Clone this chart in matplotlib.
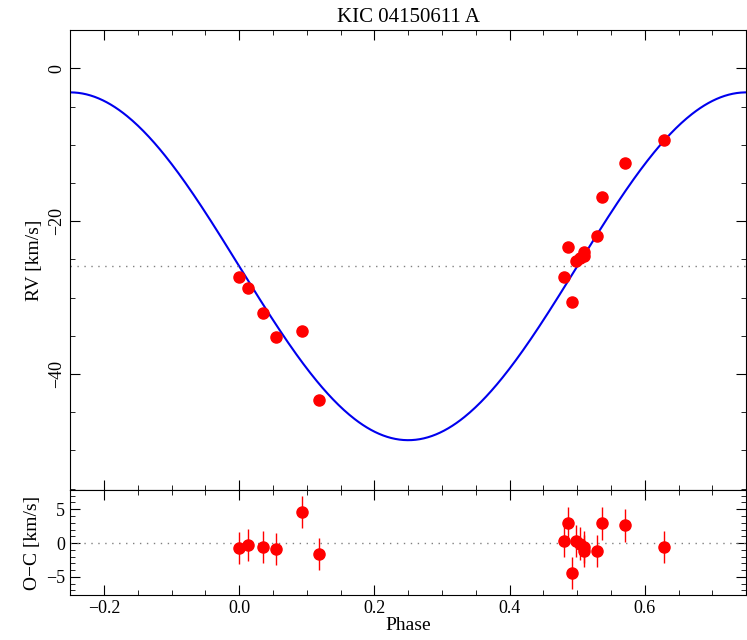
import numpy as np
import matplotlib
matplotlib.use("Agg")
import matplotlib.pyplot as plt
from matplotlib.ticker import MultipleLocator

plt.rcParams['font.family'] = ['Liberation Serif', 'DejaVu Serif']

phase = [0.0, 0.013, 0.035, 0.055, 0.093, 0.118, 0.481, 0.487, 0.492, 0.498,
         0.504, 0.510, 0.510, 0.529, 0.536, 0.570, 0.628]
rv = [-27.3, -28.8, -32.0, -35.2, -34.4, -43.4, -27.3, -23.4, -30.6, -25.2,
      -24.8, -24.6, -24.0, -22.0, -16.9, -12.4, -9.4]
resid = [-0.7, -0.3, -0.6, -0.9, 4.6, -1.6, 0.3, 2.9, -4.4, 0.3,
         -0.1, -0.6, -1.2, -1.2, 2.9, 2.6, -0.6]
err = 2.4
gamma = -25.9
K = 22.75

fig = plt.figure(figsize=(7.47, 6.4), dpi=100)
ax1 = fig.add_axes([0.094, 0.234, 0.905, 0.719])
ax2 = fig.add_axes([0.094, 0.070, 0.905, 0.164], sharex=ax1)

ph = np.linspace(-0.25, 0.75, 500)
ax1.plot(ph, gamma - K*np.sin(2*np.pi*ph), color='#0000ee', lw=1.5)
ax1.axhline(gamma, color='gray', ls=(0, (1, 4)), lw=1)
ax1.plot(phase, rv, 'o', color='red', ms=8)
ax1.set_xlim(-0.25, 0.75)
ax1.set_ylim(-55.2, 5)
ax1.set_ylabel('RV [km/s]', fontsize=14)
ax1.set_title('KIC 04150611 A', fontsize=15)
ax1.yaxis.set_major_locator(MultipleLocator(20))
ax1.yaxis.set_minor_locator(MultipleLocator(5))
plt.setp(ax1.get_xticklabels(), visible=False)
for t in ax1.get_yticklabels():
    t.set_rotation(90); t.set_va('center')

ax2.axhline(0, color='gray', ls=(0, (1, 4)), lw=1)
ax2.errorbar(phase, resid, yerr=err, fmt='o', color='red', ms=8, elinewidth=1, capsize=0)
ax2.set_ylim(-7.7, 7.8)
ax2.set_ylabel('O−C [km/s]', fontsize=14)
ax2.set_xlabel('Phase', fontsize=14, labelpad=0)
ax2.yaxis.set_major_locator(MultipleLocator(5))
ax2.yaxis.set_minor_locator(MultipleLocator(1))

for ax in (ax1, ax2):
    ax.xaxis.set_major_locator(MultipleLocator(0.2))
    ax.xaxis.set_minor_locator(MultipleLocator(0.05))
    ax.tick_params(which='both', direction='in', top=True, right=True, labelsize=13)
    ax.tick_params(which='major', length=7)
    ax.tick_params(which='minor', length=3.5)
fig.savefig('out.png', dpi=100)
